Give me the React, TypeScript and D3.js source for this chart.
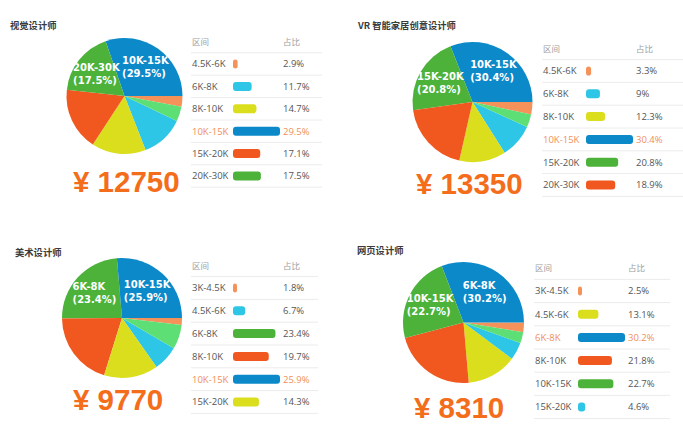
import { useMemo } from "react";
import * as d3 from "d3";

// ---- data ----
const titles = ["视觉设计师", "VR 智能家居创意设计师", "美术设计师", "网页设计师"];
const averages = [12750, 13350, 9770, 8310];

const visualRanges = ["4.5K-6K", "6K-8K", "8K-10K", "10K-15K", "15K-20K", "20K-30K"];
const visualShares = [2.9, 11.7, 14.7, 29.5, 17.1, 17.5];

const vrRanges = ["4.5K-6K", "6K-8K", "8K-10K", "10K-15K", "15K-20K", "20K-30K"];
const vrShares = [3.3, 9, 12.3, 30.4, 20.8, 18.9];

const artRanges = ["3K-4.5K", "4.5K-6K", "6K-8K", "8K-10K", "10K-15K", "15K-20K"];
const artShares = [1.8, 6.7, 23.4, 19.7, 25.9, 14.3];

const webRanges = ["3K-4.5K", "4.5K-6K", "6K-8K", "8K-10K", "10K-15K", "15K-20K"];
const webShares = [2.5, 13.1, 30.2, 21.8, 22.7, 4.6];

// unlabelled light-green slice in each pie (estimated)
const otherShares = [4.0, 3.4, 6.5, 2.9];

const headers = ["区间", "占比"];

const allRanges = [visualRanges, vrRanges, artRanges, webRanges];
const allShares = [visualShares, vrShares, artShares, webShares];

// ---- styles ----
const rankColors = ["#0b89c9", "#4cb23a", "#f0581f", "#dbde1d", "#2ec6e6", "#f4925a"];
const otherColor = "#5ddf76";
const accent = "#f0905a";
const bigColor = "#f36d1a";

const layouts = [
  { title: [10, 29], pie: [124.5, 96, 58], tx: 192, top: 52.8, step: 22.4, bar: 233, pct: 283, end: 322, big: [73, 192] },
  { title: [358, 29], pie: [472.5, 102, 60], tx: 543, top: 59.6, step: 22.8, bar: 586, pct: 636, end: 683, big: [416, 194] },
  { title: [15, 256], pie: [122, 318, 60], tx: 192, top: 276.6, step: 22.8, bar: 233, pct: 283, end: 318, big: [73, 410] },
  { title: [357, 254], pie: [463.5, 322.5, 60.5], tx: 535, top: 279.4, step: 23.2, bar: 578, pct: 628, end: 670, big: [414, 418] },
];

const labelFont = "bold 10px 'DejaVu Sans'";
const ctx = document.createElement("canvas").getContext("2d");
function textWidth(s: string) {
  if (!ctx) return s.length * 6.5;
  ctx.font = labelFont;
  return ctx.measureText(s).width;
}

interface Slice {
  key: string;
  value: number;
  color: string;
  rank: number;
}

function Panel({ index }: { index: number }) {
  const L = layouts[index];
  const ranges = allRanges[index];
  const shares = allShares[index];
  const [cx, cy, r] = L.pie;

  const order = d3.range(shares.length).sort((a, b) => shares[b] - shares[a]);
  const rankOf = new Map(order.map((idx, rank) => [idx, rank]));
  const maxShare = d3.max(shares) ?? 1;

  const slices: Slice[] = ranges.map((k, i) => ({
    key: k,
    value: shares[i],
    color: rankColors[rankOf.get(i)!],
    rank: rankOf.get(i)!,
  }));
  slices.push({ key: "其他", value: otherShares[index], color: otherColor, rank: 99 });

  const arcs = d3
    .pie<Slice>()
    .value((d) => d.value)
    .sort((a, b) => b.value - a.value)
    .startAngle(Math.PI / 2)
    .endAngle(Math.PI / 2 - 2 * Math.PI)(slices);

  const arc = d3.arc<d3.PieArcDatum<Slice>>().innerRadius(0).outerRadius(r);
  const labelArc = d3
    .arc<d3.PieArcDatum<Slice>>()
    .innerRadius(r * 0.62)
    .outerRadius(r * 0.62);

  const y = d3
    .scaleBand<string>()
    .domain(ranges)
    .range([L.top, L.top + L.step * ranges.length]);
  const w = d3.scaleLinear().domain([0, maxShare]).range([0, 47]);

  const tableFont = "'Open Sans', sans-serif";

  return (
    <g>
      <text
        x={L.title[0]}
        y={L.title[1]}
        fontFamily="'Noto Sans CJK SC', sans-serif"
        fontWeight="bold"
        fontSize={9.3}
        fill="#3a3a3a"
      >
        {titles[index]}
      </text>

      <g transform={`translate(${cx},${cy})`}>
        {arcs.map((a) => (
          <path key={a.data.key} d={arc(a) ?? ""} fill={a.data.color} />
        ))}
        {arcs
          .filter((a) => a.data.rank < 2)
          .map((a) => {
            const [lx, ly] = labelArc.centroid(a);
            const l1 = a.data.key;
            const l2 = `(${a.data.value}%)`;
            const bw = Math.max(textWidth(l1), textWidth(l2));
            return (
              <text
                key={"l" + a.data.key}
                x={lx - bw / 2}
                y={ly}
                fill="#fff"
                fontFamily="'DejaVu Sans', sans-serif"
                fontWeight="bold"
                fontSize={10}
              >
                <tspan x={lx - bw / 2} dy={-3}>
                  {l1}
                </tspan>
                <tspan x={lx - bw / 2} dy={13}>
                  {l2}
                </tspan>
              </text>
            );
          })}
      </g>

      <text
        x={L.big[0]}
        y={L.big[1]}
        fontFamily="'Liberation Sans', Arial, sans-serif"
        fontWeight="bold"
        fontSize={29.5}
        fill={bigColor}
      >
        {`¥ ${averages[index]}`}
      </text>

      <g fontFamily="'Noto Sans CJK SC', sans-serif" fontSize={8.5} fill="#a0a0a0">
        <text x={L.tx} y={L.top - 11} dy="0.35em">
          {headers[0]}
        </text>
        <text x={L.pct} y={L.top - 11} dy="0.35em">
          {headers[1]}
        </text>
      </g>
      <line x1={L.tx - 1} x2={L.end} y1={L.top} y2={L.top} stroke="#ececec" />
      {ranges.map((k, i) => {
        const yc = (y(k) ?? 0) + y.bandwidth() / 2;
        const hi = shares[i] === maxShare;
        const bwid = Math.max(4, w(shares[i]));
        return (
          <g key={k}>
            <text
              x={L.tx}
              y={yc}
              dy="0.35em"
              fontFamily={tableFont}
              fontSize={9.5}
              fill={hi ? accent : "#555"}
            >
              {k}
            </text>
            <rect
              x={L.bar}
              y={yc - 4.5}
              width={bwid}
              height={9}
              rx={Math.min(3, bwid / 2)}
              fill={rankColors[rankOf.get(i)!]}
            />
            <text
              x={L.pct}
              y={yc}
              dy="0.35em"
              fontFamily={tableFont}
              fontSize={9.5}
              fill={hi ? accent : "#555"}
            >
              {`${shares[i]}%`}
            </text>
            <line
              x1={L.tx - 1}
              x2={L.end}
              y1={(y(k) ?? 0) + y.bandwidth()}
              y2={(y(k) ?? 0) + y.bandwidth()}
              stroke="#ececec"
            />
          </g>
        );
      })}
    </g>
  );
}

export default function App() {
  const panels = useMemo(() => d3.range(titles.length), []);
  return (
    <svg
      width={683}
      height={443}
      style={{ position: "absolute", left: 0, top: 0, background: "#fff" }}
    >
      <rect width={683} height={443} fill="#fff" />
      {panels.map((i) => (
        <Panel key={i} index={i} />
      ))}
    </svg>
  );
}
